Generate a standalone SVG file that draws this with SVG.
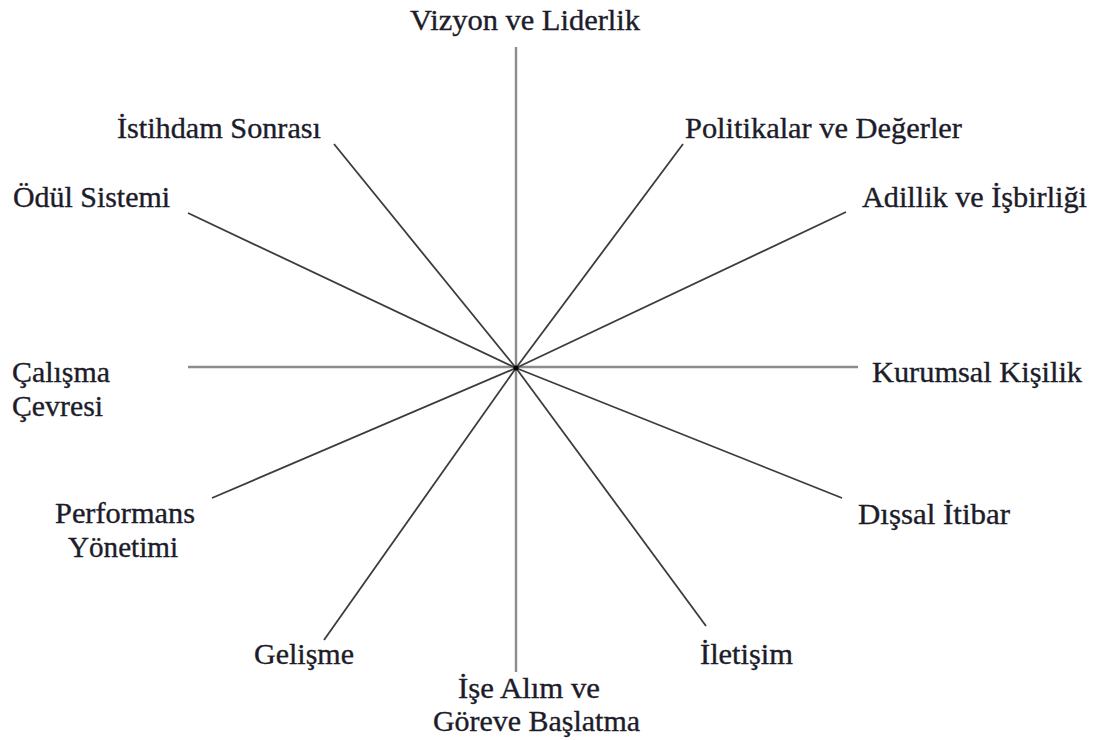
<svg xmlns="http://www.w3.org/2000/svg" width="1096" height="740" viewBox="0 0 1096 740">
<style>
text{font-family:"Liberation Serif","Times New Roman",serif;font-size:28.5px;fill:#1c1c2a;stroke:#1c1c2a;stroke-width:0.35}
.c line{stroke:#3c3c3c;stroke-width:1.8}
.c line.hv{stroke:#8c8c8c;stroke-width:2.4}
</style>
<rect width="1096" height="740" fill="#fff"/>
<g id="connectors" class="c">
<line class="hv" x1="516" y1="368" x2="516" y2="47"/>
<line class="hv" x1="516" y1="368" x2="516" y2="672"/>
<line class="hv" x1="516" y1="367" x2="188" y2="367"/>
<line class="hv" x1="516" y1="367" x2="858" y2="367"/>
<line x1="516" y1="368" x2="334" y2="144"/>
<line x1="516" y1="368" x2="188" y2="213"/>
<line x1="516" y1="368" x2="683" y2="144"/>
<line x1="516" y1="368" x2="846" y2="212"/>
<line x1="516" y1="368" x2="212" y2="498"/>
<line x1="516" y1="368" x2="842" y2="498"/>
<line x1="516" y1="368" x2="324" y2="640"/>
<line x1="516" y1="368" x2="706" y2="626"/>
<circle cx="516" cy="368" r="2.5" fill="#000"/>
</g>
<g id="n1"><text x="410" y="30" textLength="230" lengthAdjust="spacingAndGlyphs">Vizyon ve Liderlik</text></g>
<g id="n2"><text x="117" y="138" textLength="204" lengthAdjust="spacingAndGlyphs">İstihdam Sonrası</text></g>
<g id="n3"><text x="13" y="207" textLength="157" lengthAdjust="spacingAndGlyphs">Ödül Sistemi</text></g>
<g id="n4"><text x="685" y="138" textLength="277" lengthAdjust="spacingAndGlyphs">Politikalar ve Değerler</text></g>
<g id="n5"><text x="862" y="207" textLength="225" lengthAdjust="spacingAndGlyphs">Adillik ve İşbirliği</text></g>
<g id="n6"><text x="12" y="382" textLength="98" lengthAdjust="spacingAndGlyphs">Çalışma</text><text x="12" y="416" textLength="91" lengthAdjust="spacingAndGlyphs">Çevresi</text></g>
<g id="n7"><text x="872" y="382" textLength="210" lengthAdjust="spacingAndGlyphs">Kurumsal Kişilik</text></g>
<g id="n8"><text x="55" y="523" textLength="140" lengthAdjust="spacingAndGlyphs">Performans</text><text x="68" y="557" textLength="110" lengthAdjust="spacingAndGlyphs">Yönetimi</text></g>
<g id="n9"><text x="858" y="524" textLength="152" lengthAdjust="spacingAndGlyphs">Dışsal İtibar</text></g>
<g id="n10"><text x="254" y="664" textLength="100" lengthAdjust="spacingAndGlyphs">Gelişme</text></g>
<g id="n11"><text x="700" y="664" textLength="93" lengthAdjust="spacingAndGlyphs">İletişim</text></g>
<g id="n12"><text x="458" y="698" textLength="142" lengthAdjust="spacingAndGlyphs">İşe Alım ve</text><text x="433" y="731" textLength="207" lengthAdjust="spacingAndGlyphs">Göreve Başlatma</text></g>
</svg>
